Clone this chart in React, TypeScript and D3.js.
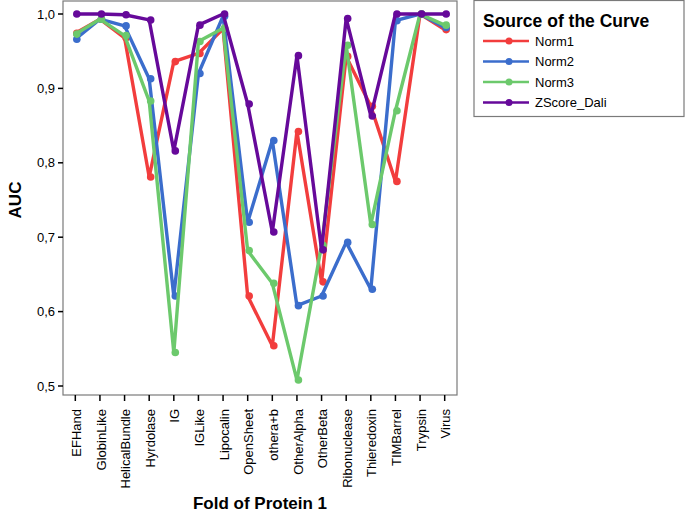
import * as d3 from 'd3'

const categories = [
  'EFHand', 'GlobinLike', 'HelicalBundle', 'Hyrdolase', 'IG', 'IGLike', 'Lipocalin', 'OpenSheet',
  'othera+b', 'OtherAlpha', 'OtherBeta', 'Ribonuclease', 'Thieredoxin', 'TIMBarrel', 'Trypsin', 'Virus',
]

const norm1 = [0.974, 0.993, 0.968, 0.781, 0.936, 0.947, 0.98, 0.621, 0.554, 0.842, 0.64, 0.943, 0.876, 0.775, 1.0, 0.979]
const norm2 = [0.966, 0.993, 0.984, 0.913, 0.621, 0.92, 0.997, 0.72, 0.83, 0.608, 0.621, 0.693, 0.63, 0.991, 1.0, 0.982]
const norm3 = [0.973, 0.993, 0.971, 0.883, 0.545, 0.963, 0.981, 0.682, 0.638, 0.508, 0.689, 0.958, 0.717, 0.87, 1.0, 0.985]
const zscoreDali = [1.0, 1.0, 0.999, 0.992, 0.816, 0.985, 1.0, 0.879, 0.707, 0.944, 0.683, 0.994, 0.863, 1.0, 1.0, 1.0]

const yTicks = [0.5, 0.6, 0.7, 0.8, 0.9, 1.0]

const series = [
  { name: 'Norm1', values: norm1, color: '#f23d3d' },
  { name: 'Norm2', values: norm2, color: '#3b6dcc' },
  { name: 'Norm3', values: norm3, color: '#6cc96c' },
  { name: 'ZScore_Dali', values: zscoreDali, color: '#66099a' },
]

const W = 685
const H = 514
const plot = { left: 63, top: 1, right: 457, bottom: 395 }
const font = 'Liberation Sans, Arial, sans-serif'

export default function App() {
  const x = d3
    .scalePoint<string>()
    .domain(categories)
    .range([plot.left, plot.right])
    .padding(0.5)
  const y = d3.scaleLinear().domain([0.5, 1.0]).range([386, 14])

  const line = d3
    .line<number>()
    .x((_, i) => x(categories[i])!)
    .y((d) => y(d))

  const fmt = (v: number) => v.toFixed(1).replace('.', ',')

  return (
    <svg width={W} height={H} style={{ position: 'absolute', left: 0, top: 0 }} fontFamily={font}>
      <rect x={0} y={0} width={W} height={H} fill="#fff" />
      <rect
        x={plot.left}
        y={plot.top}
        width={plot.right - plot.left}
        height={plot.bottom - plot.top}
        fill="#fff"
        stroke="#7a7a7a"
        strokeWidth={1.2}
      />

      {/* y axis */}
      {yTicks.map((t) => (
        <g key={t}>
          <line x1={plot.left - 5} x2={plot.left} y1={y(t)} y2={y(t)} stroke="#000" strokeWidth={1.5} />
          <text x={plot.left - 8} y={y(t)} dy="0.35em" textAnchor="end" fontSize={13} fill="#000">
            {fmt(t)}
          </text>
        </g>
      ))}

      {/* x axis */}
      {categories.map((c) => (
        <g key={c}>
          <line x1={x(c)} x2={x(c)} y1={plot.bottom} y2={plot.bottom + 6} stroke="#000" strokeWidth={1.5} />
          <text
            transform={`translate(${x(c)! + 1},${plot.bottom + 14}) rotate(-90)`}
            dy="0.35em"
            textAnchor="end"
            fontSize={13}
            fill="#000"
          >
            {c}
          </text>
        </g>
      ))}

      {/* lines */}
      {series.map((s) => (
        <g key={s.name}>
          <path d={line(s.values)!} fill="none" stroke={s.color} strokeWidth={3.4} strokeLinejoin="round" />
          {s.values.map((v, i) => (
            <circle key={i} cx={x(categories[i])! + 1.5} cy={y(v)} r={3.8} fill={s.color} />
          ))}
        </g>
      ))}

      {/* axis titles */}
      <text
        transform={`translate(21,${(y(0.5) + y(1.0)) / 2}) rotate(-90)`}
        textAnchor="middle"
        fontSize={17}
        fontWeight="bold"
        fill="#000"
      >
        AUC
      </text>
      <text x={260} y={509} textAnchor="middle" fontSize={17} fontWeight="bold" fill="#000">
        Fold of Protein 1
      </text>

      {/* legend */}
      <rect x={474} y={0.5} width={210} height={116} fill="#fff" stroke="#7a7a7a" strokeWidth={1.2} />
      <text x={483} y={27} fontSize={17.5} fontWeight="bold" fill="#000">
        Source of the Curve
      </text>
      {series.map((s, i) => {
        const ly = 41 + i * 20.5
        return (
          <g key={s.name}>
            <line x1={483} x2={529} y1={ly} y2={ly} stroke={s.color} strokeWidth={2.5} />
            <circle cx={509} cy={ly} r={3.5} fill={s.color} />
            <text x={535} y={ly} dy="0.35em" fontSize={13} fill="#000">
              {s.name}
            </text>
          </g>
        )
      })}
    </svg>
  )
}
